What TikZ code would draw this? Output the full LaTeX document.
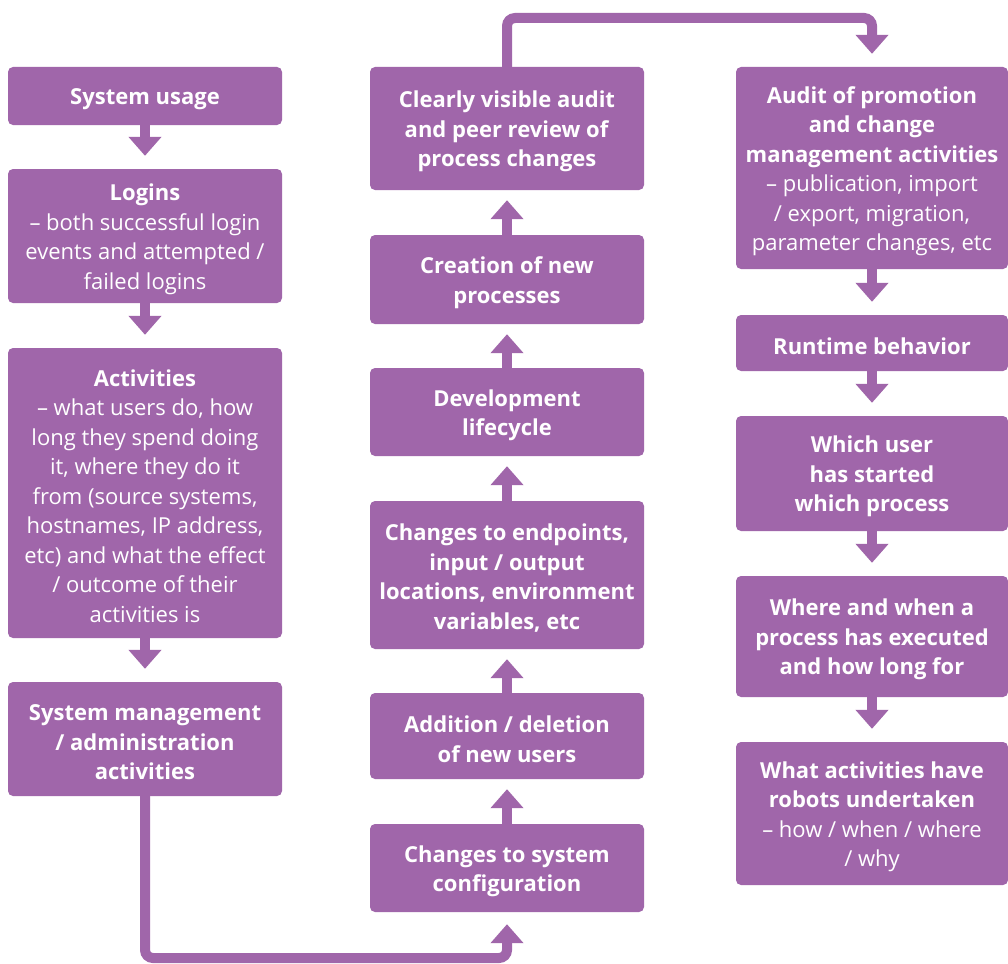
\documentclass[tikz,border=0pt]{standalone}
\usepackage{fontspec}
\setmainfont{Open Sans}
\usetikzlibrary{arrows.meta}
\definecolor{violetbox}{RGB}{160,102,170}
\newcommand\fl{\rule{0pt}{23pt}}
\begin{document}
\begin{tikzpicture}[x=1pt,y=-1pt,
  box/.style={fill=violetbox,rounded corners=5pt,text=white,align=center,inner sep=0pt,
    font=\fontsize{22}{29.5}\selectfont},
  lbox/.style={box,minimum width=274pt},
  rbox/.style={box,minimum width=272pt},
  arr/.style={draw=violetbox,line width=10pt,-{Triangle[width=32pt,length=19pt]}},
  conn/.style={arr,rounded corners=8pt}]
\fill[white] (0,0) rectangle (1008,963);
% left column
\node[lbox,minimum height=58pt] (su) at (145,96) {\fl\textbf{System usage}};
\node[lbox,minimum height=134pt] (lg) at (145,236) {\fl\textbf{Logins}\\– both successful login\\events and attempted /\\failed logins};
\node[lbox,minimum height=290pt] (ac) at (145,493) {\fl\textbf{Activities}\\– what users do, how\\long they spend doing\\it, where they do it\\from (source systems,\\hostnames, IP address,\\etc) and what the effect\\/ outcome of their\\activities is};
\node[lbox,minimum height=114pt] (sm) at (145,739) {\fl\textbf{System management}\\\textbf{/ administration}\\\textbf{activities}};
% middle column
\node[lbox,minimum height=123pt] (cv) at (507,128.5) {\fl\textbf{Clearly visible audit}\\\textbf{and peer review of}\\\textbf{process changes}};
\node[lbox,minimum height=89pt] (cr) at (507,279.5) {\fl\textbf{Creation of new}\\\textbf{processes}};
\node[lbox,minimum height=88pt] (dv) at (507,412) {\fl\textbf{Development}\\\textbf{lifecycle}};
\node[lbox,minimum height=148pt] (ce) at (507,575) {\fl\textbf{Changes to endpoints,}\\\textbf{input / output}\\\textbf{locations, environment}\\\textbf{variables, etc}};
\node[lbox,minimum height=86pt] (ad) at (507,736) {\fl\textbf{Addition / deletion}\\\textbf{of new users}};
\node[lbox,minimum height=88pt] (cs) at (507,868) {\fl\textbf{Changes to system}\\\textbf{configuration}};
% right column
\node[rbox,minimum height=202pt] (ap) at (872,168) {\fl\textbf{Audit of promotion}\\\textbf{and change}\\\textbf{management activities}\\– publication, import\\/ export, migration,\\parameter changes, etc};
\node[rbox,minimum height=56pt] (rt) at (872,343) {\fl\textbf{Runtime behavior}};
\node[rbox,minimum height=115pt] (wu) at (872,473.5) {\fl\textbf{Which user}\\\textbf{has started}\\\textbf{which process}};
\node[rbox,minimum height=121pt] (ww) at (872,636.5) {\fl\textbf{Where and when a}\\\textbf{process has executed}\\\textbf{and how long for}};
\node[rbox,minimum height=143pt] (wa) at (872,813.5) {\fl\textbf{What activities have}\\\textbf{robots undertaken}\\– how / when / where\\/ why};
% coordinates for connectors
\coordinate (b1) at (145,958);
\coordinate (b2) at (507,958);
\coordinate (t1) at (507,18);
\coordinate (t2) at (872,18);
% left arrows
\draw[arr,shorten >=13pt] (su.south) -- (lg.north);
\draw[arr,shorten >=13pt] (lg.south) -- (ac.north);
\draw[arr,shorten >=13pt] (ac.south) -- (sm.north);
% middle arrows (upwards)
\draw[arr,shorten >=10pt] (cs.north) -- (ad.south);
\draw[arr,shorten >=10pt] (ad.north) -- (ce.south);
\draw[arr,shorten >=10pt] (ce.north) -- (dv.south);
\draw[arr,shorten >=10pt] (dv.north) -- (cr.south);
\draw[arr,shorten >=10pt] (cr.north) -- (cv.south);
% right arrows
\draw[arr,shorten >=13pt] (ap.south) -- (rt.north);
\draw[arr,shorten >=13pt] (rt.south) -- (wu.north);
\draw[arr,shorten >=13pt] (wu.south) -- (ww.north);
\draw[arr,shorten >=13pt] (ww.south) -- (wa.north);
% long connectors
\draw[conn,shorten >=12pt] (sm.south) -- (b1) -- (b2) -- (cs.south);
\draw[conn,shorten >=13pt] (cv.north) -- (t1) -- (t2) -- (ap.north);
\end{tikzpicture}
\end{document}
